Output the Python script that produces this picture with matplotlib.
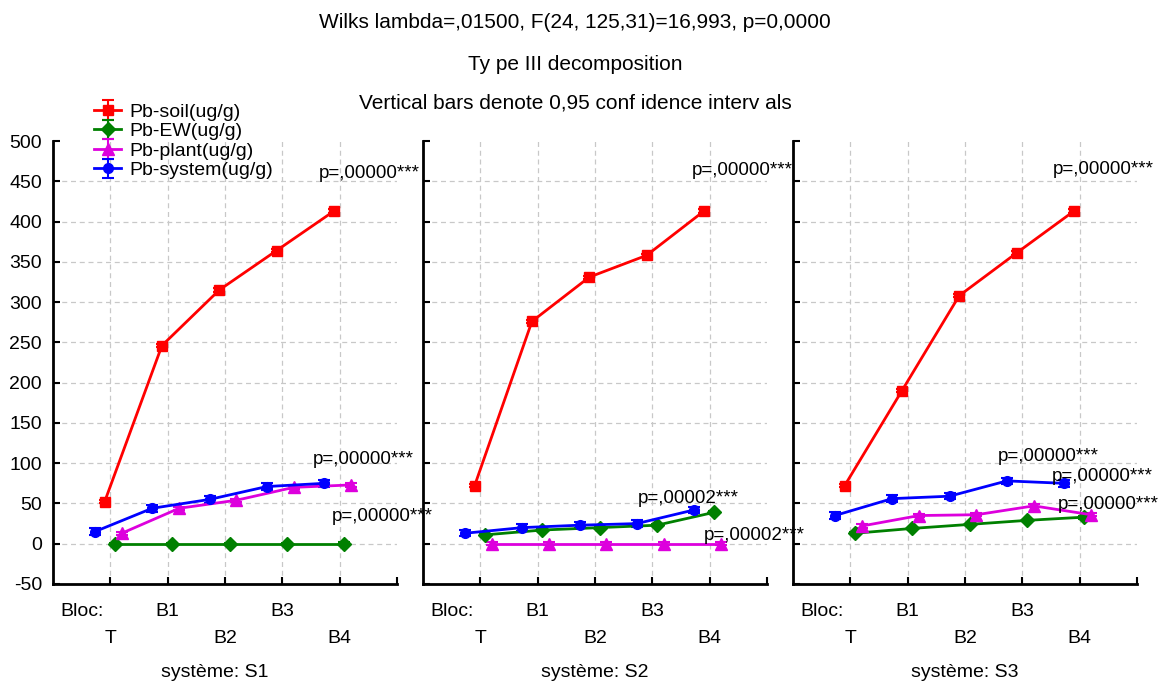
import matplotlib
matplotlib.use("Agg")
import matplotlib.pyplot as plt

plt.rcParams['font.family'] = ['Liberation Sans', 'DejaVu Sans']
plt.rcParams['axes.unicode_minus'] = False

blocs = ["T", "B1", "B2", "B3", "B4"]
systems = ["S1", "S2", "S3"]
series_names = ["Pb-soil(ug/g)", "Pb-EW(ug/g)", "Pb-plant(ug/g)", "Pb-system(ug/g)"]

soil = [[52, 246, 315, 364, 413],
        [72, 276, 331, 358, 413],
        [72, 190, 308, 361, 413]]
ew = [[0, 0, 0, 0, 0],
      [11, 17, 20, 23, 39],
      [13, 19, 24, 29, 33]]
plant = [[13, 44, 54, 70, 73],
         [0, 0, 0, 0, 0],
         [22, 35, 36, 47, 36]]
system_tot = [[15, 44, 55, 71, 75],
              [13, 20, 23, 25, 42],
              [35, 56, 59, 78, 75]]

soil_err = [2, 2, 2, 2, 2]
ew_err = [1, 1, 1, 1, 2]
plant_err = [2, 2, 2, 2, 2]
system_err = [4, 4, 4, 4, 4]

# p-value labels per panel: (text, x in bloc units, y)
p_labels = [
    [("p=,00000***", 4.63, 460), ("p=,00000***", 4.54, 104), ("p=,00000***", 4.86, 34)],
    [("p=,00000***", 4.68, 463), ("p=,00002***", 3.75, 56), ("p=,00002***", 4.89, 10)],
    [("p=,00000***", 4.54, 465), ("p=,00000***", 3.58, 108), ("p=,00000***", 4.52, 83),
     ("p=,00000***", 4.62, 49)],
]

titles = ["Wilks lambda=,01500, F(24, 125,31)=16,993, p=0,0000",
          "Ty pe III decomposition",
          "Vertical bars denote 0,95 conf idence interv als"]

colors = ["#ff0000", "#008000", "#dd00dd", "#0000ff"]
markers = ["s", "D", "^", "o"]
offsets = [-0.1, 0.08, 0.2, -0.27]
FS = 14


def draw_panel(ax, i, show_y):
    data = [soil[i], ew[i], plant[i], system_tot[i]]
    errs = [soil_err, ew_err, plant_err, system_err]
    handles = []
    for k in range(4):
        xs = [j + 1 + offsets[k] for j in range(len(blocs))]
        h = ax.errorbar(xs, data[k], yerr=errs[k], color=colors[k], marker=markers[k],
                        markersize=7 if k != 2 else 8, lw=2, capsize=4, capthick=1.5,
                        elinewidth=1.5, label=series_names[k], zorder=3)
        handles.append(h)

    ax.set_xlim(0, 6)
    ax.set_ylim(-50, 500)
    ax.set_yticks(range(-50, 501, 50))
    ax.set_xticks([1, 2, 3, 4, 5, 6])
    ax.set_xticklabels(["\nT", "B1", "\nB2", "B3", "\nB4", ""])
    ax.set_xticks([0.5], minor=True)
    ax.set_xticklabels(["Bloc:"], minor=True)
    for lbl in ax.get_xticklabels(which="both"):
        lbl.set_linespacing(1.75)
        lbl.set_verticalalignment("top")
    ax.tick_params(axis="x", which="major", direction="in", length=5, width=1.5,
                   pad=14, labelsize=FS)
    ax.tick_params(axis="x", which="minor", length=0, pad=14, labelsize=FS)
    ax.tick_params(axis="y", direction="in", length=5, width=1.5, labelsize=FS,
                   labelleft=show_y, pad=8)

    ax.grid(True, which="major", ls=(0, (4, 3)), color="#c8c8c8", lw=0.9)
    ax.get_xgridlines()[-1].set_visible(False)
    ygl = ax.get_ygridlines()
    ygl[0].set_visible(False)
    ygl[-1].set_visible(False)
    ax.set_axisbelow(True)
    ax.patch.set_visible(False)

    for side in ["top", "right"]:
        ax.spines[side].set_visible(False)
    for side in ["left", "bottom"]:
        ax.spines[side].set_linewidth(2)

    for txt, x, y in p_labels[i]:
        ax.text(x, y, txt, fontsize=FS - 0.5, ha="left", va="center", clip_on=False, zorder=4)

    ax.text(0.47 if i == 0 else 0.5, -0.2, "système: " + systems[i], transform=ax.transAxes,
            ha="center", va="center", fontsize=FS)
    return handles


def main():
    fig = plt.figure(figsize=(11.63, 7), dpi=100)
    W, H = 1163, 700
    lefts = [53, 423, 793]
    handles = None
    for i, left in enumerate(lefts):
        ax = fig.add_axes([left / W, (H - 584) / H, 344 / W, (584 - 141) / H])
        h = draw_panel(ax, i, i == 0)
        if handles is None:
            handles = h

    for y, t in zip([22, 65, 103], titles):
        fig.text(575 / W, 1 - y / H, t, ha="center", va="center", fontsize=15)

    fig.legend(handles, series_names, loc="upper left", bbox_to_anchor=(94 / W, 1 - 103 / H),
               frameon=False, fontsize=FS, handlelength=1.4, handletextpad=0.4,
               labelspacing=0.1, borderpad=0, borderaxespad=0)

    plt.savefig("out.png", dpi=100)


if __name__ == "__main__":
    main()
